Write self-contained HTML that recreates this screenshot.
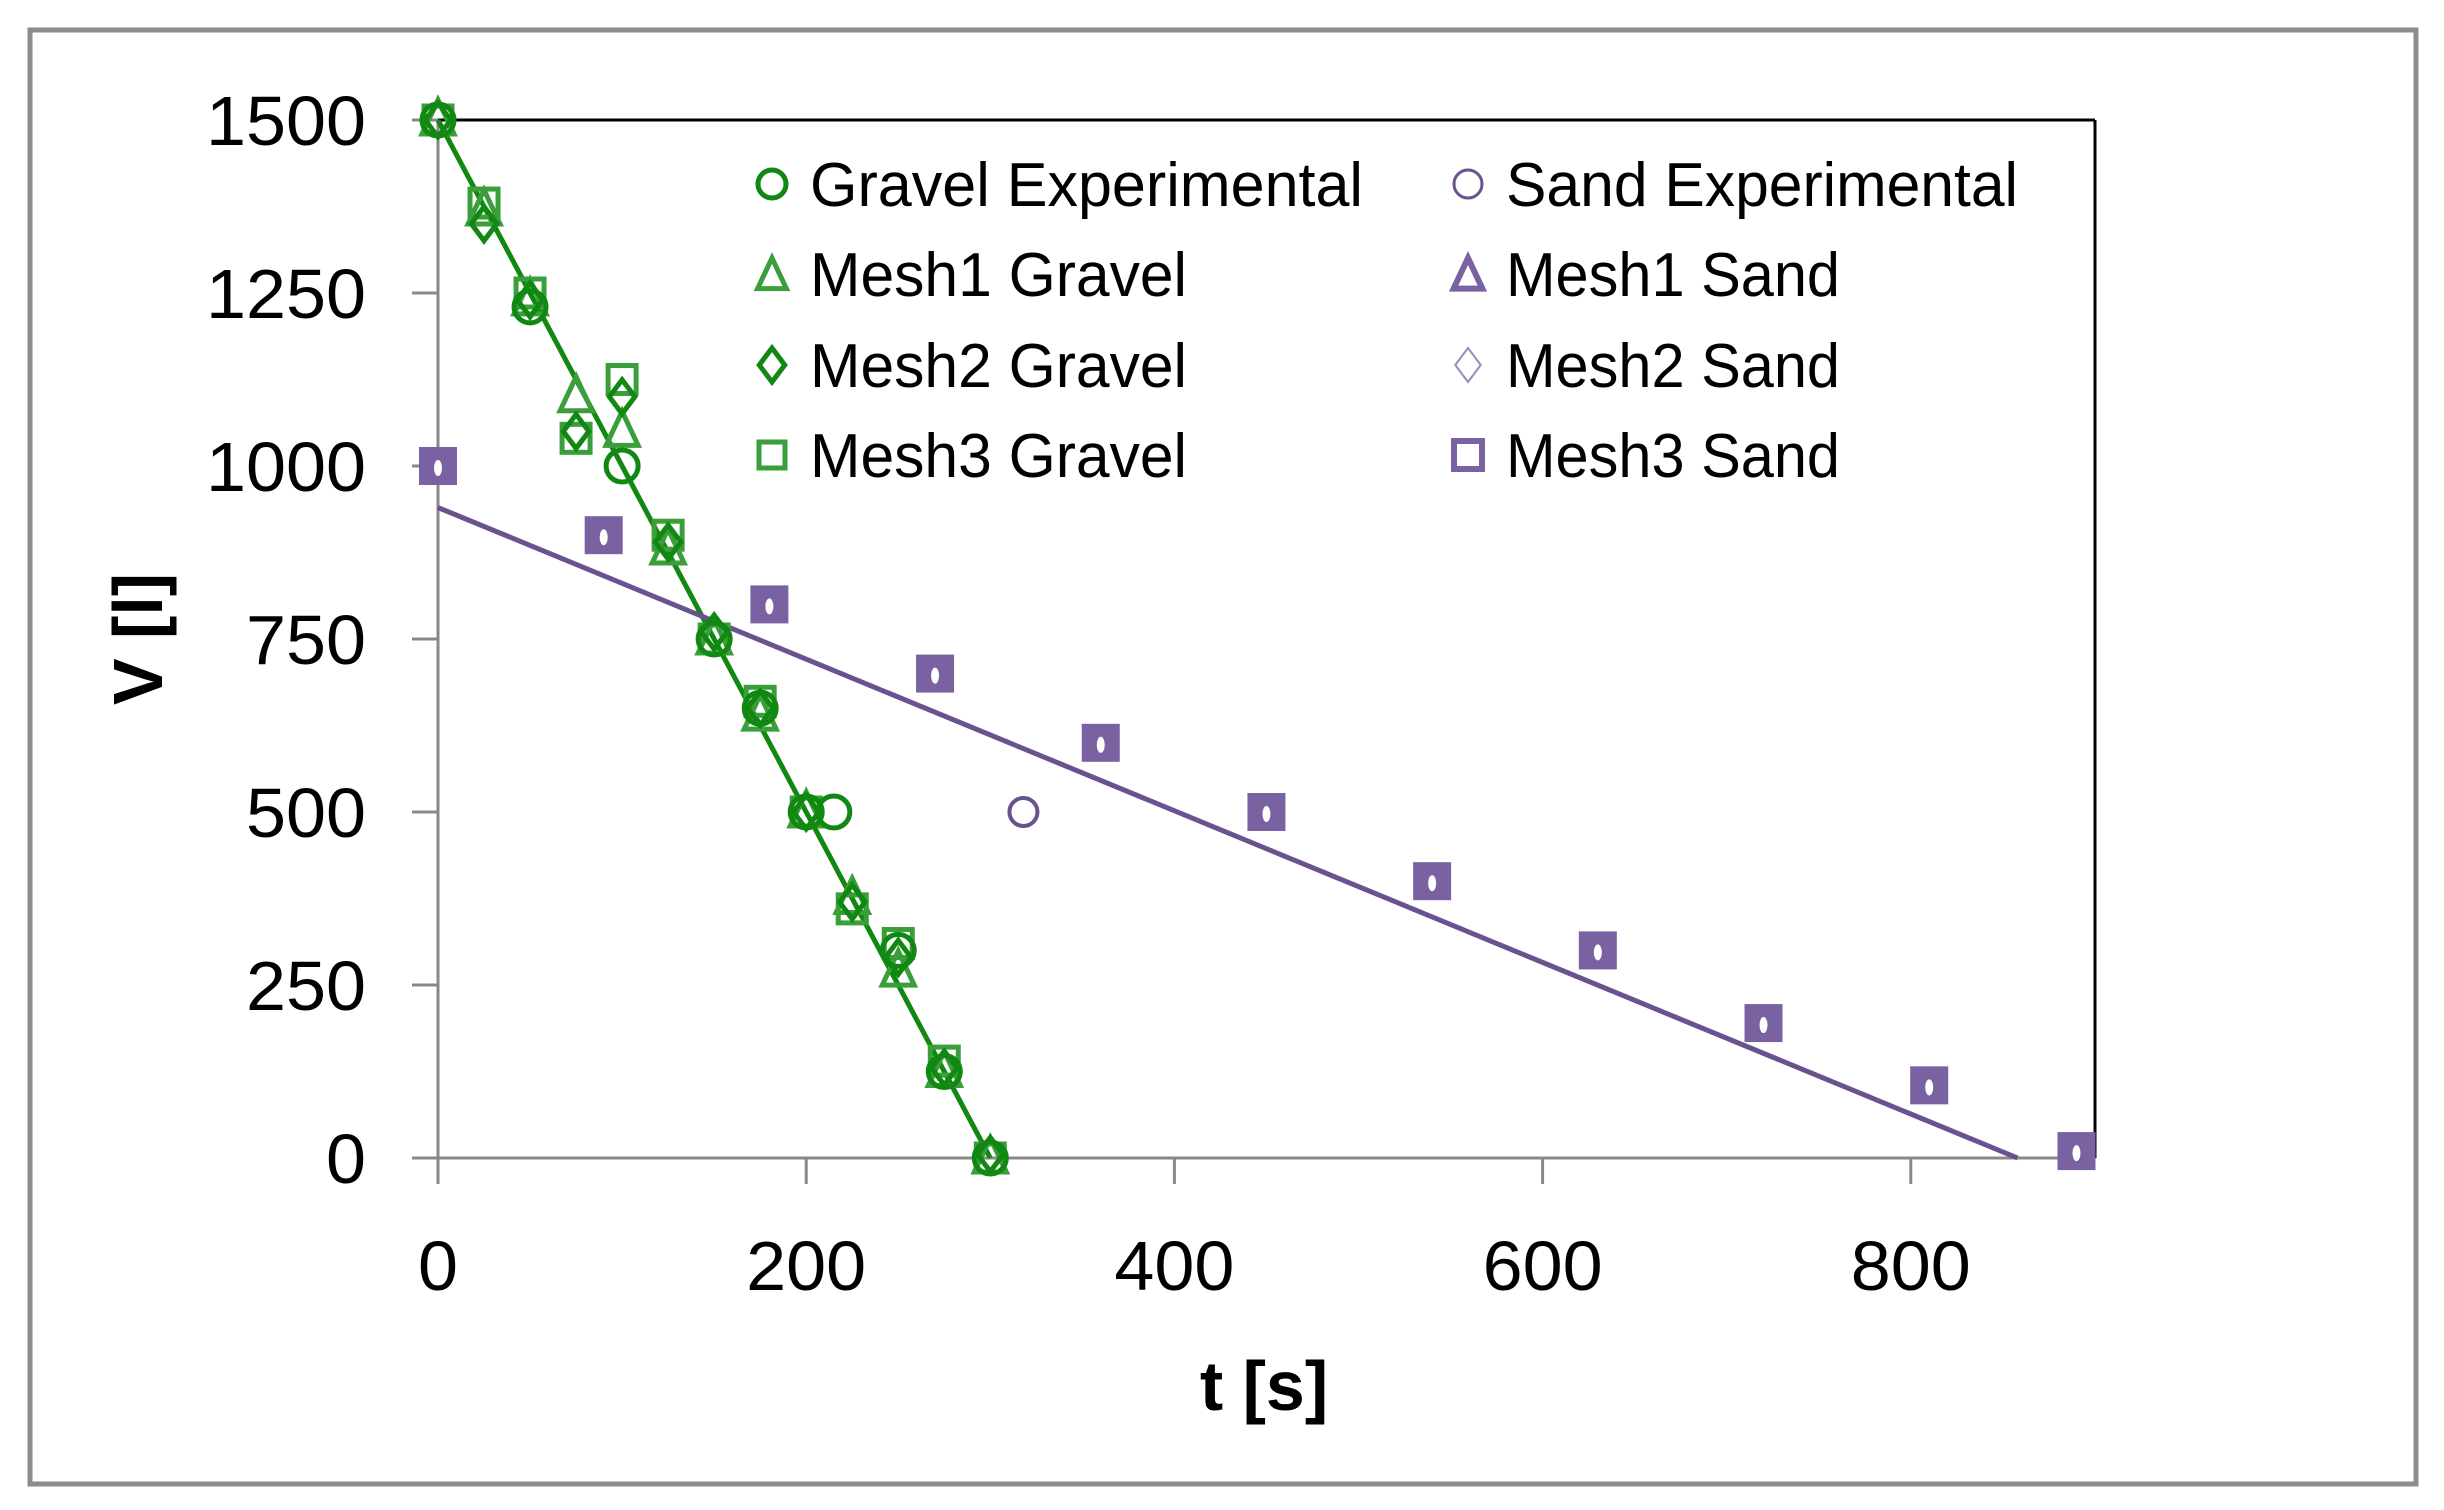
<!DOCTYPE html>
<html><head><meta charset="utf-8"><style>
html,body{margin:0;padding:0;background:#fff;}
svg{display:block;}
text{font-family:"Liberation Sans",sans-serif;fill:#000;}
</style></head><body>
<svg id="s" width="2444" height="1510" viewBox="0 0 2444 1510" xmlns="http://www.w3.org/2000/svg">
<rect x="0" y="0" width="2444" height="1510" fill="#fff"/>
<rect x="30" y="30" width="2386" height="1454" fill="none" stroke="#8c8c8c" stroke-width="5"/>
<line x1="438" y1="120" x2="2095" y2="120" stroke="#000" stroke-width="3"/>
<line x1="2095" y1="120" x2="2095" y2="1158" stroke="#000" stroke-width="3"/>
<line x1="438" y1="120" x2="438" y2="1158" stroke="#888" stroke-width="3"/>
<line x1="438" y1="1158" x2="2095" y2="1158" stroke="#888" stroke-width="3"/>
<g id="ticks" stroke="#888" stroke-width="3"></g>
<g id="labels" font-size="70"></g>
<text x="1264" y="1410" font-size="70" font-weight="bold" text-anchor="middle">t [s]</text>
<text transform="translate(162,639) rotate(-90)" font-size="70" font-weight="bold" text-anchor="middle">V [l]</text>
<line id="gl" stroke="#118811" stroke-width="5"/>
<line id="pl" stroke="#6a5290" stroke-width="5"/>
<g id="pts"></g>
<g id="leg" font-size="62"></g>
</svg>
<script>
var NS="http://www.w3.org/2000/svg";
function X(t){return 438+t*1.841;}
function Y(v){return 1158-v*0.692;}
function el(p,n,a){var e=document.createElementNS(NS,n);for(var k in a)e.setAttribute(k,a[k]);p.appendChild(e);return e;}
var tk=document.getElementById('ticks'),lb=document.getElementById('labels');
function tl(s){return s.length*40;}
[0,250,500,750,1000,1250,1500].forEach(function(v){
 el(tk,'line',{x1:412,y1:Y(v),x2:438,y2:Y(v)});
 var s=String(v);
 var t=el(lb,'text',{x:366,y:Y(v)+25,'text-anchor':'end',textLength:tl(s),lengthAdjust:'spacingAndGlyphs'});t.textContent=s;
});
[0,200,400,600,800].forEach(function(t){
 el(tk,'line',{x1:X(t),y1:1158,x2:X(t),y2:1184});
 var s=String(t);
 var e=el(lb,'text',{x:X(t),y:1290,'text-anchor':'middle',textLength:tl(s),lengthAdjust:'spacingAndGlyphs'});e.textContent=s;
});
var gl=document.getElementById('gl');gl.setAttribute('x1',X(0));gl.setAttribute('y1',Y(1500));gl.setAttribute('x2',X(300));gl.setAttribute('y2',Y(0));
var pl=document.getElementById('pl');pl.setAttribute('x1',X(0));pl.setAttribute('y1',Y(940));pl.setAttribute('x2',X(858));pl.setAttribute('y2',Y(0));
var P=document.getElementById('pts');
var G1='#118811',G2='#3a9e3a',PU='#7a62a2';
function circ(g,x,y,c,r,w){el(g,'circle',{cx:x,cy:y,r:r,fill:'none',stroke:c,'stroke-width':w});}
function tri(g,x,y,c,s,w){el(g,'polygon',{points:(x)+','+(y-s)+' '+(x-s*0.8)+','+(y+s*0.7)+' '+(x+s*0.8)+','+(y+s*0.7),fill:'none',stroke:c,'stroke-width':w});}
function dia(g,x,y,c,s,w){el(g,'polygon',{points:x+','+(y-s)+' '+(x+s*0.75)+','+y+' '+x+','+(y+s)+' '+(x-s*0.75)+','+y,fill:'none',stroke:c,'stroke-width':w});}
function sq(g,x,y,c,s,w,f){el(g,'rect',{x:x-s,y:y-s,width:2*s,height:2*s,fill:f||'none',stroke:c,'stroke-width':w});}
var gE=[[0,1500],[50,1230],[100,1000],[150,750],[175,650],[200,500],[215,500],[250,300],[275,125],[300,0]];
var g1=[[0,1500],[25,1370],[50,1240],[75,1100],[100,1050],[125,880],[150,750],[175,640],[200,500],[225,375],[250,270],[275,125],[300,0]];
var g2=[[0,1500],[25,1350],[50,1240],[75,1050],[100,1100],[125,890],[150,760],[175,650],[200,500],[225,370],[250,290],[275,130],[300,5]];
var g3=[[0,1500],[25,1380],[50,1250],[75,1040],[100,1125],[125,900],[150,750],[175,660],[200,500],[225,360],[250,310],[275,140],[300,0]];
var sp=[[0,1000],[90,900],[180,800],[270,700],[360,600],[450,500],[540,400],[630,300],[720,195],[810,105],[890,10]];
sp.forEach(function(p){var x=X(p[0]),y=Y(p[1]);sq(P,x,y,PU,17,4,PU);el(P,'ellipse',{cx:x,cy:y+2,rx:4,ry:8,fill:'#fff'});});
circ(P,X(318),Y(500),'#6a5290',14,4);
g3.forEach(function(p){sq(P,X(p[0]),Y(p[1]),G2,14,5);});
g1.forEach(function(p){tri(P,X(p[0]),Y(p[1]),G2,20,5);});
g2.forEach(function(p){dia(P,X(p[0]),Y(p[1]),G1,17,5);});
gE.forEach(function(p){circ(P,X(p[0]),Y(p[1]),G1,16,5);});
var L=document.getElementById('leg');
var rows=[184,274,365,455];
var names1=['Gravel Experimental','Mesh1 Gravel','Mesh2 Gravel','Mesh3 Gravel'],
    names2=['Sand Experimental','Mesh1 Sand','Mesh2 Sand','Mesh3 Sand'],
    w1=[553,377,377,377],w2=[512,334,334,334];
rows.forEach(function(y,i){
 var t=el(L,'text',{x:810,y:y+22,textLength:w1[i],lengthAdjust:'spacingAndGlyphs'});t.textContent=names1[i];
 t=el(L,'text',{x:1506,y:y+22,textLength:w2[i],lengthAdjust:'spacingAndGlyphs'});t.textContent=names2[i];
});
circ(L,772,184,G1,14,5);tri(L,772,276,G2,18,5);dia(L,772,365,G1,17,5);sq(L,772,455,G2,13,5);
circ(L,1468,184,'#6a5290',14,3);tri(L,1468,276,PU,18,6);dia(L,1468,365,'#9a88b8',17,2);sq(L,1468,455,PU,14,6);
</script>
</body></html>
